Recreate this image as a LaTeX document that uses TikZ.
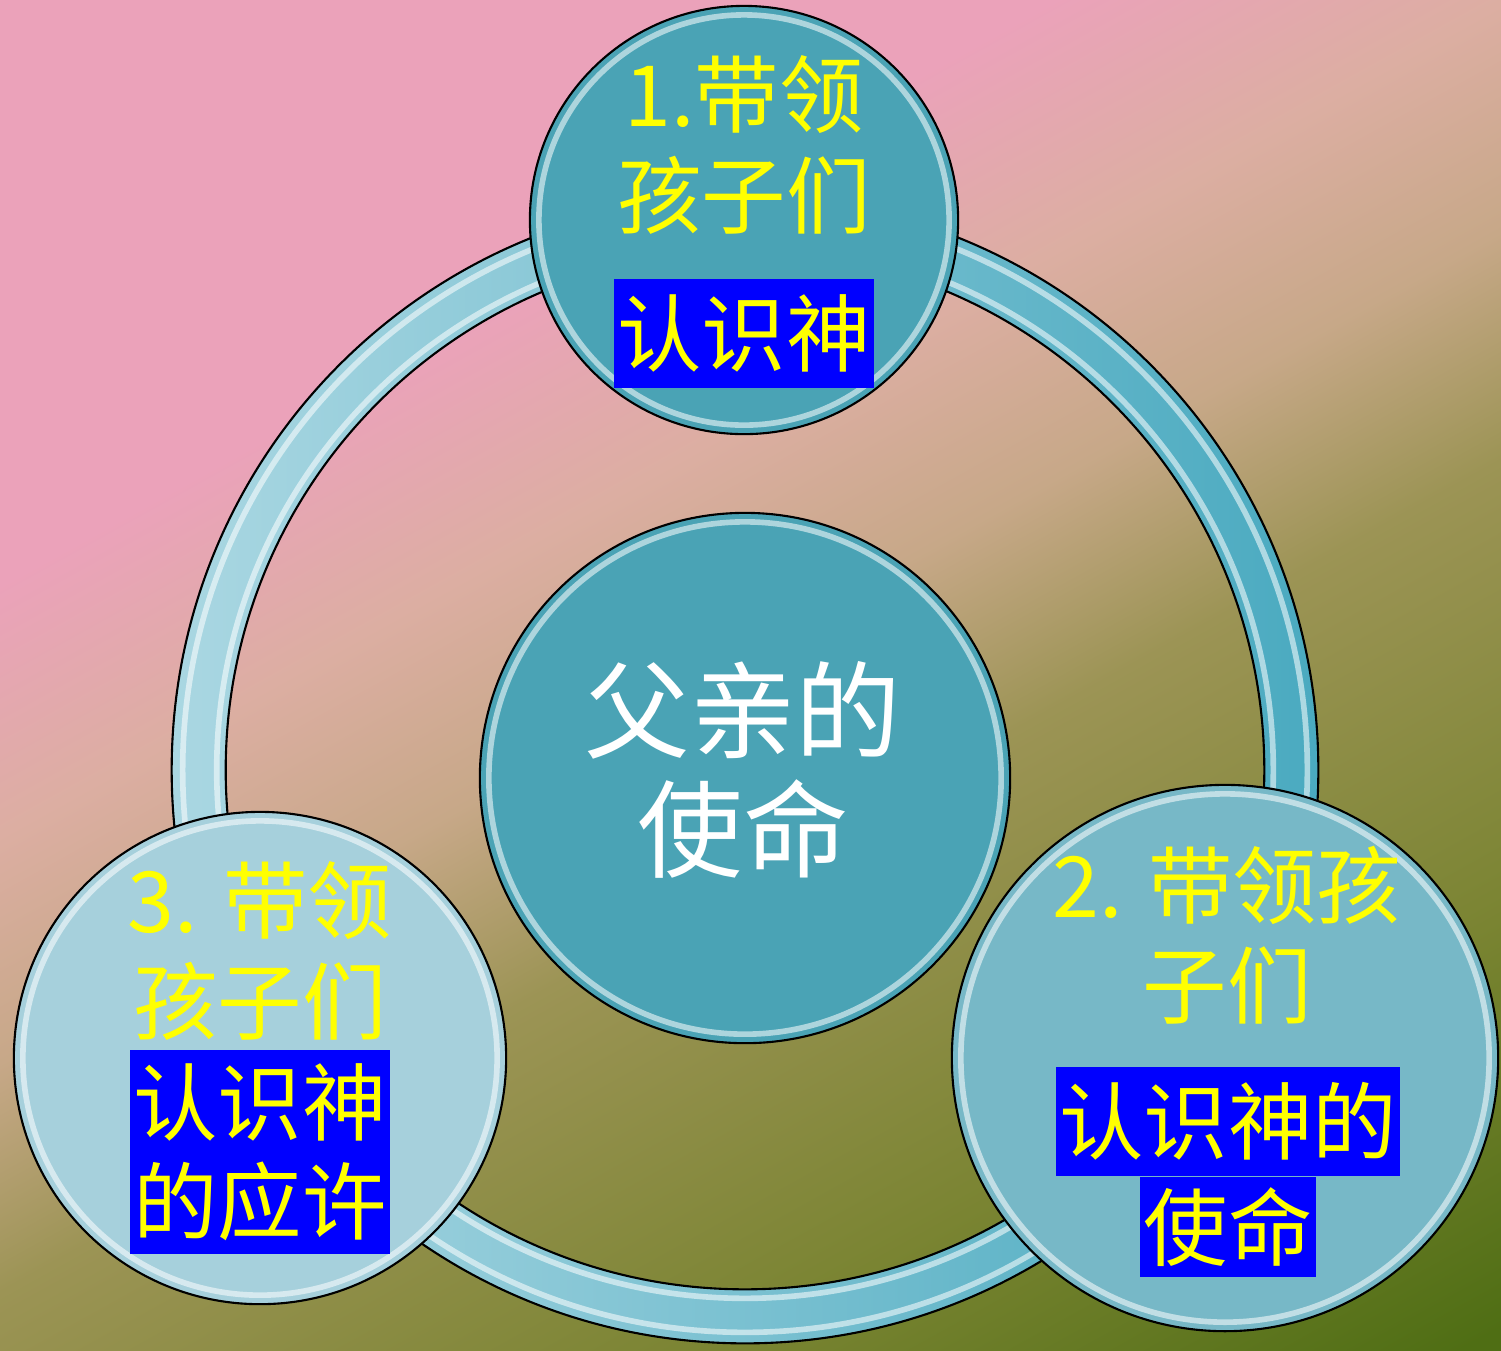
\documentclass[tikz,border=0pt]{standalone}
\usepackage{fontspec}
\newfontfamily\cjk{Noto Sans CJK SC}
\usetikzlibrary{positioning}
\definecolor{bgpink}{HTML}{EBA2BA}
\definecolor{bgrose}{HTML}{DCAEA2}
\definecolor{bgtan}{HTML}{C7A888}
\definecolor{bgolive}{HTML}{9C9455}
\definecolor{bgmoss}{HTML}{7A8432}
\definecolor{bggreen}{HTML}{4F6E14}
\definecolor{ringlight}{HTML}{AAD7E2}
\definecolor{ringdark}{HTML}{4AAAC0}
\definecolor{deepteal}{HTML}{4AA3B5}
\definecolor{midteal}{HTML}{77B8C7}
\definecolor{paleteal}{HTML}{A6D0DC}
\definecolor{boxblue}{HTML}{0000FF}
\definecolor{textyellow}{HTML}{FFFF00}
\pgfdeclareverticalshading{bgwash}{100bp}{color(0bp)=(bggreen); color(26.5bp)=(bggreen); color(35.5bp)=(bgmoss); color(45.5bp)=(bgolive); color(50.5bp)=(bgtan); color(55.5bp)=(bgrose); color(61bp)=(bgpink); color(100bp)=(bgpink)}

\begin{document}
\begin{tikzpicture}[x=0.01cm,y=-0.01cm,
		bubble/.style={circle,draw=black,line width=0.6pt,inner sep=0pt},
		glint/.style={white,opacity=.55,line width=1.6pt},
		yellowtxt/.style={text=textyellow,align=center,
			font=\cjk\fontsize{24}{28.5}\selectfont},
		tag/.style={fill=boxblue,text=textyellow,align=center,inner xsep=1pt,
			inner ysep=4pt,minimum height=31pt,
			font=\cjk\fontsize{24}{28}\selectfont}]
	\useasboundingbox (0,0) rectangle (1501,1350);
	% tilted backdrop
	\begin{scope}
		\clip (0,0) rectangle (1501,1350);
		\begin{scope}[transform canvas={rotate around={29:(0,0)}}]
			\shade[shading=bgwash] (-700,-50) rectangle (1400,1950);
		\end{scope}
	\end{scope}
	% ring behind the bubbles
	\coordinate (hub) at (745,770);
	\shade[left color=ringlight,right color=ringdark,even odd rule]
	(hub) circle[radius=5.73cm] (hub) circle[radius=5.19cm];
	\draw[line width=0.6pt] (hub) circle[radius=5.73cm] (hub) circle[radius=5.19cm];
	\draw[glint] (hub) circle[radius=5.62cm] (hub) circle[radius=5.28cm];
	% bubbles
	\node[bubble,fill=deepteal,minimum size=5.30cm] (mission) at (745,778) {};
	\node[bubble,fill=deepteal,minimum size=4.28cm] (lead) at (744,220) {};
	\node[bubble,fill=midteal,minimum size=5.46cm] (purpose) at (1225,1058) {};
	\node[bubble,fill=paleteal,minimum size=4.92cm] (promise) at (260,1058) {};
	\foreach \c/\r in {mission/2.65,lead/2.14,purpose/2.73,promise/2.46}
	\draw[glint] (\c) circle[radius=\r cm-0.09cm];
	% texts
	\node[text=white,align=center,font=\cjk\fontsize{30}{34}\selectfont]
	(missiontxt) at (743,770) {父亲的\\使命};
	\node[yellowtxt] (leadtxt) at (744,145) {1.带领\\孩子们};
	\node[tag] (leadtag) at (744,333) {认识神};
	\node[yellowtxt] (purposetxt) at (1227,935) {2. 带领孩\\子们};
	\node[tag] (purposetag) at (1228,1121) {认识神的};
	\node[tag,inner ysep=2pt,minimum height=28.5pt] (purposetag2)
	[below=0pt of purposetag] {使命};
	\node[yellowtxt] (promisetxt) at (260,951) {3. 带领\\孩子们};
	\node[tag] (promisetag) at (260,1152) {认识神\\的应许};
\end{tikzpicture}
\end{document}
